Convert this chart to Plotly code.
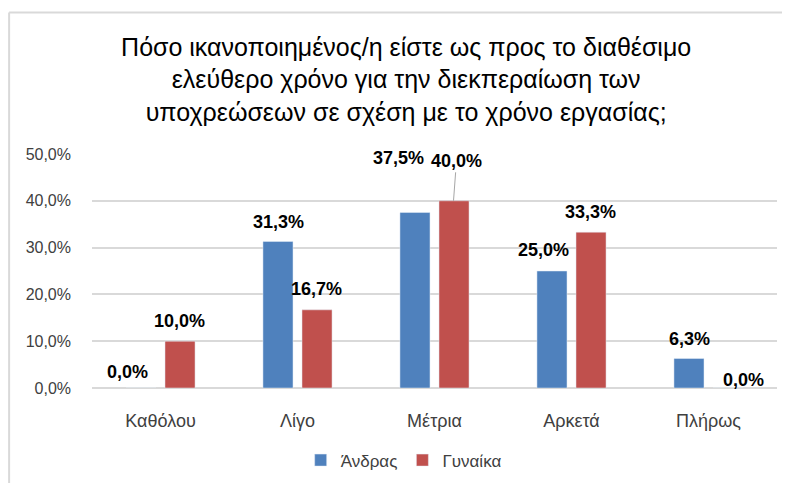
import plotly.graph_objects as go

categories = ["Καθόλου", "Λίγο", "Μέτρια", "Αρκετά", "Πλήρως"]
men = [0.0, 31.3, 37.5, 25.0, 6.3]
women = [10.0, 16.7, 40.0, 33.3, 0.0]
series_names = ["Άνδρας", "Γυναίκα"]

BLUE = "#4F81BD"
RED = "#C0504D"
FONT = "Liberation Sans"


def pct(v):
    return f"{v:.1f}%".replace(".", ",")


fig = go.Figure()
fig.add_trace(go.Bar(x=categories, y=men, name=series_names[0], marker_color=BLUE))
fig.add_trace(go.Bar(x=categories, y=women, name=series_names[1], marker_color=RED))

# label placement offsets (px), mimicking Excel's nudged labels
men_dx = [-14, 0, -17, -9, 0]
men_dy = [16, 20, 55, 21, 20]
women_dx = [0, 0, 0, 0, 16]
women_dy = [20, 21, 40, 20, 8]

label_font = dict(size=18, color="#000000", family=FONT)
annotations = []
for cat, v, dx, dy in zip(categories, men, men_dx, men_dy):
    annotations.append(dict(x=cat, y=v, text=f"<b>{pct(v)}</b>", showarrow=False,
                            xshift=-19 + dx, yshift=dy, font=label_font))
for cat, v, dx, dy in zip(categories, women, women_dx, women_dy):
    if cat == "Μέτρια":
        annotations.append(dict(x=cat, y=v, text=f"<b>{pct(v)}</b>", showarrow=True, arrowhead=0,
                                arrowcolor="#A6A6A6", arrowwidth=1, ax=3, ay=-dy, xshift=19,
                                font=label_font))
    else:
        annotations.append(dict(x=cat, y=v, text=f"<b>{pct(v)}</b>", showarrow=False,
                                xshift=19 + dx, yshift=dy, font=label_font))

# the page body adds an 8px offset, so margins are pulled in by 8px
fig.update_layout(
    width=790, height=485,
    margin=dict(l=84, r=21, t=146, b=105),
    paper_bgcolor="white", plot_bgcolor="white",
    title=dict(
        text="Πόσο ικανοποιημένος/η είστε ως προς το διαθέσιμο<br>ελεύθερο χρόνο για την διεκπεραίωση των<br>υποχρεώσεων σε σχέση με το χρόνο εργασίας;",
        x=0.504, xanchor="center", y=0.902, yref="container", yanchor="top",
        font=dict(size=25, color="#000000", family=FONT),
    ),
    barmode="group", bargap=0.43, bargroupgap=0.23,
    xaxis=dict(showgrid=False, showline=False, ticks="", automargin=False, ticklabelstandoff=20,
               tickfont=dict(size=18, color="#404040", family=FONT)),
    yaxis=dict(range=[0, 50], dtick=10, tickformat=".1f", ticksuffix="%", showgrid=True,
               gridcolor="#D9D9D9", gridwidth=1.5, zeroline=True, zerolinecolor="#D9D9D9",
               zerolinewidth=1.5, ticks="", automargin=False, ticklabelstandoff=20,
               tickfont=dict(size=16, color="#404040", family=FONT)),
    separators=", ",
    legend=dict(orientation="h", x=0.455, xanchor="center", y=-0.31, yanchor="middle",
                font=dict(size=17, color="#404040", family=FONT), itemwidth=30),
    annotations=annotations,
    shapes=[
        dict(type="line", xref="paper", yref="paper", x0=-0.121, x1=1.03, y0=1.605, y1=1.605,
             line=dict(color="#D9D9D9", width=2)),
        dict(type="line", xref="paper", yref="paper", x0=-0.121, x1=-0.121, y0=1.605, y1=-0.406,
             line=dict(color="#D9D9D9", width=2)),
    ],
)

fig.write_html("out.html")
